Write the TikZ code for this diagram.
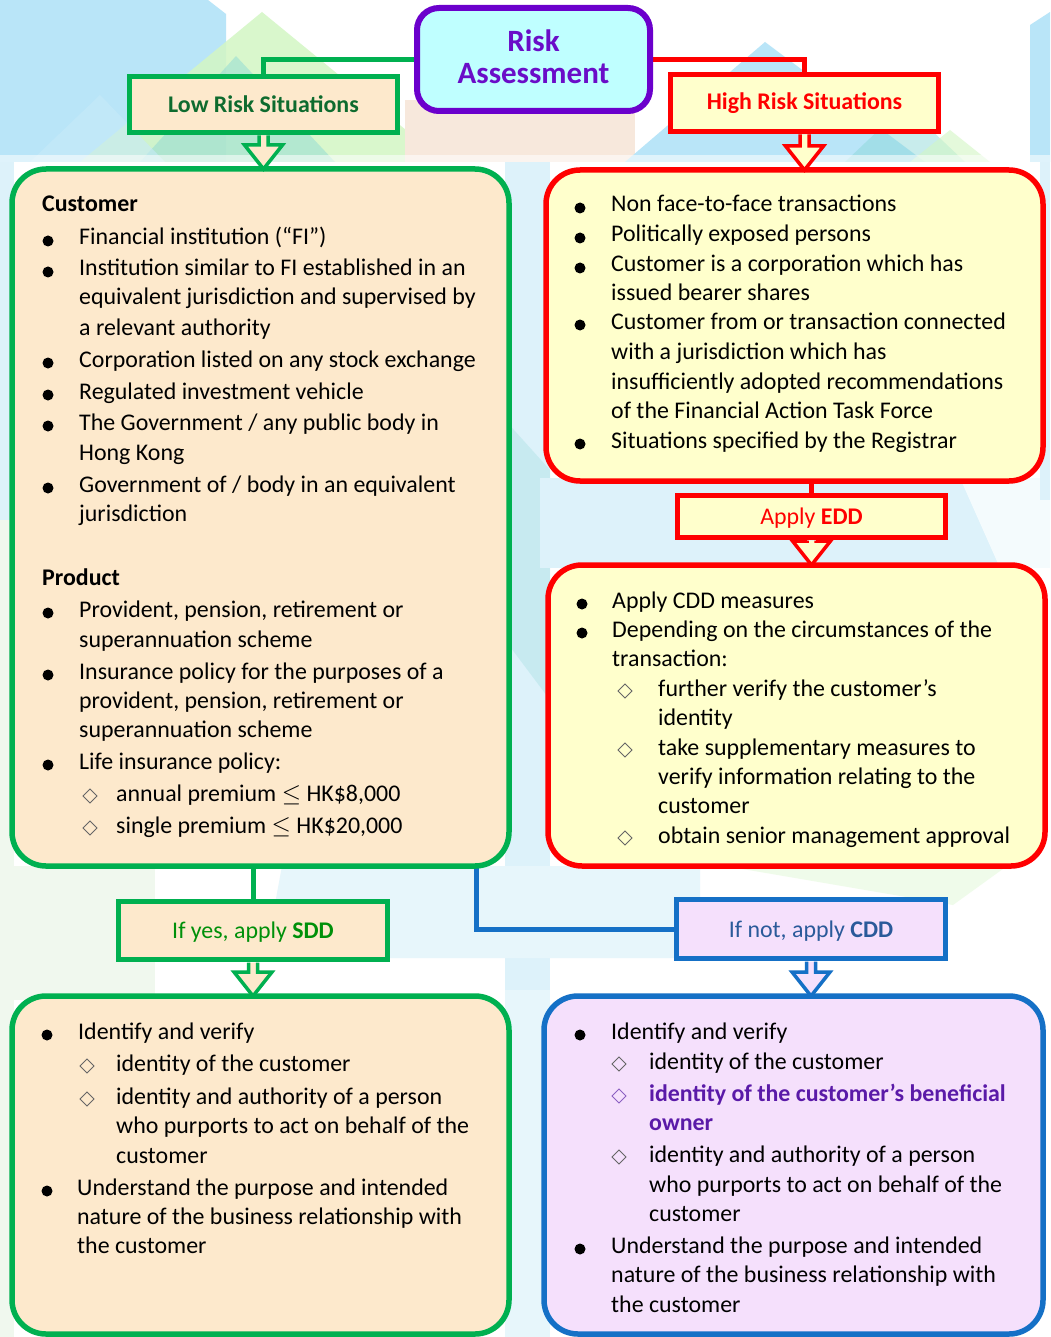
\documentclass[tikz,border=0pt]{standalone}
\usepackage{fontspec}
\setmainfont{Carlito}
\usetikzlibrary{calc}
\pgfdeclarelayer{bg}\pgfdeclarelayer{conn}\pgfsetlayers{bg,conn,main}
\definecolor{gr}{HTML}{00B050}
\definecolor{peach}{HTML}{FDE9CC}
\definecolor{rd}{HTML}{FF0000}
\definecolor{ylw}{HTML}{FFFFCC}
\definecolor{pur}{HTML}{6B00CC}
\definecolor{ratext}{HTML}{6A0DC8}
\definecolor{cyanfill}{HTML}{BFFFFF}
\definecolor{dkgr}{HTML}{0E6B2E}
\definecolor{sddgr}{HTML}{00900A}
\definecolor{bl}{HTML}{1570C6}
\definecolor{lav}{HTML}{F5E0FC}
\definecolor{cddtxt}{HTML}{2A5A9A}
\definecolor{bpur}{HTML}{5A1AA8}
\definecolor{bgblue}{HTML}{B9E5F8}
\definecolor{bggreen}{HTML}{D3F6C4}
\definecolor{bgteal}{HTML}{86D6D6}
\definecolor{bgpeach}{HTML}{F7E8DC}
\definecolor{bglight}{HTML}{DDF2FA}
\definecolor{bgpale}{HTML}{F0F8EE}
\tikzset{
 txt/.style={inner sep=0pt, font=\fontsize{23.9}{28}\selectfont, anchor=base west},
 bigbox/.style={rectangle, rounded corners=34pt, line width=5.5pt, outer sep=0pt, inner sep=0pt, anchor=north west},
 lbl/.style={rectangle, line width=5pt, outer sep=0pt, inner sep=0pt, font=\fontsize{23.9}{28}\selectfont},
 conn/.style={line width=5pt},
 harr/.style={line width=3.5pt, line join=miter},
 dia/.style={draw=black!60, line width=0.8pt},
}
\newcounter{lnc}
\newcommand\Tx[3]{\stepcounter{lnc}\node[txt] (ln\arabic{lnc}) at (#1,#2) {#3};}
\newcommand\Bu[4]{\fill (#1,#2-4) circle[radius=5.5pt]; \Tx{#3}{#2}{#4}}
\newcommand\Di[5][black!60]{\draw[dia,draw=#1] (#2-7,#3-5) -- (#2,#3-12) -- (#2+7,#3-5) -- (#2,#3+2) -- cycle; \Tx{#4}{#3}{#5}}
\newcommand\HArr[4]{\filldraw[harr,draw=#3,fill=#4] let \p1=(#1), \p2=(#2) in
 (\x1-4.5pt,\y1-3pt) -- (\x1-4.5pt,\y2+24pt) -- (\x1-19pt,\y2+24pt) -- (\x1,\y2) -- (\x1+19pt,\y2+24pt) -- (\x1+4.5pt,\y2+24pt) -- (\x1+4.5pt,\y1-3pt);}
\begin{document}
\begin{tikzpicture}[x=1pt,y=-1pt]
\useasboundingbox (0,0) rectangle (1050,1337);
\begin{pgfonlayer}{bg}
\fill[white] (0,0) rectangle (1050,1337);
% top decoration
\fill[bgblue] (0,0) -- (208,0) -- (226,14) -- (226,162) -- (0,162) -- cycle;
\fill[bggreen,opacity=.85] (262,12) -- (445,162) -- (80,162) -- cycle;
\fill[bgteal,opacity=.45] (236,56) -- (335,162) -- (140,162) -- cycle;
\fill[bgblue!80,opacity=.6] (100,95) -- (165,162) -- (30,162) -- cycle;
\fill[bgpeach] (405,100) -- (635,100) -- (635,162) -- (405,162) -- cycle;
\fill[bgblue] (765,42) -- (925,162) -- (625,162) -- cycle;
\fill[bgteal,opacity=.45] (905,105) -- (965,162) -- (845,162) -- cycle;
\fill[bggreen,opacity=.6] (950,130) -- (990,162) -- (910,162) -- cycle;
\fill[bgblue] (1030,25) -- (1050,12) -- (1050,162) -- (1030,162) -- cycle;
\fill[white,opacity=.55] (0,155) rectangle (1050,170);
% side columns
\fill[bglight] (0,162) rectangle (14,520);
\fill[bgpale] (0,520) rectangle (14,1337);
\fill[bglight] (505,162) rectangle (550,1000);
\fill[bgteal,opacity=.25] (505,420) -- (550,470) -- (550,700) -- (505,640) -- cycle;
\fill[bglight] (540,478) rectangle (1050,568);
\fill[white,opacity=.7] (960,478) -- (1050,478) -- (1050,568) -- (1000,568) -- cycle;
\fill[bglight] (1040,162) rectangle (1050,500);
% lower decoration
\fill[bgpale] (0,866) rectangle (155,1000);
\fill[bglight!70] (282,866) -- (700,866) -- (700,958) -- (265,958) -- cycle;
\fill[bggreen,opacity=.35] (725,866) -- (1007,866) -- (953,905) -- cycle;
\fill[bglight!70] (505,990) rectangle (550,1337);
\end{pgfonlayer}

% main boxes
\node[bigbox,draw=gr,fill=peach,minimum width=497pt,minimum height=697pt] (lowbox) at (12,169) {};
\node[bigbox,draw=rd,fill=ylw,minimum width=497pt,minimum height=311pt] (red1) at (546,170) {};
\node[bigbox,draw=rd,fill=ylw,minimum width=497pt,minimum height=301pt] (red2) at (548,565) {};
\node[bigbox,draw=gr,fill=peach,minimum width=497pt,minimum height=338pt] (sddbox) at (12,996) {};
\node[bigbox,draw=bl,fill=lav,minimum width=499pt,minimum height=338pt] (cddbox) at (544,996) {};

% labels
\node[rectangle,rounded corners=22pt,line width=6pt,draw=pur,fill=cyanfill,minimum width=233pt,minimum height=103pt,inner sep=0pt] (ra) at (533.5,59.5) {};
\node[font=\fontsize{31}{32}\selectfont\bfseries,text=ratext,align=center,inner sep=0pt] (ratxt) at (533.5,56.5) {Risk\\Assessment};
\node[lbl,draw=gr,fill=peach,minimum width=268pt,minimum height=56pt,text=dkgr,font=\fontsize{23.9}{28}\selectfont\bfseries] (low) at (263.5,104.5) {Low Risk Situations};
\node[lbl,draw=rd,fill=ylw,minimum width=268pt,minimum height=57pt,text=rd,font=\fontsize{23.9}{28}\selectfont\bfseries] (high) at (804.5,103) {High Risk Situations};
\node[lbl,draw=rd,fill=ylw,minimum width=268pt,minimum height=42pt,text=rd,text depth=0pt] (edd) at (811.5,516.5) {Apply \textbf{EDD}};
\node[lbl,draw=gr,fill=peach,minimum width=269pt,minimum height=58pt,text=sddgr,text depth=0pt] (sdd) at (253,930.5) {If yes, apply \textbf{SDD}};
\node[lbl,draw=bl,fill=lav,minimum width=269pt,minimum height=59pt,text=cddtxt,text depth=0pt] (cdd) at (811,929) {If not, apply \textbf{CDD}};

% connectors
\begin{pgfonlayer}{conn}
\draw[conn,gr] (ra.west) -| (low.north);
\draw[conn,rd] (ra.east) -| (high.north);
\draw[conn,rd] (edd.north) -- (edd.north |- red1.south);
\draw[conn,gr] (sdd.north) -- (sdd.north |- lowbox.south);
\draw[conn,bl] ($(lowbox.south east)+(-33pt,0)$) |- (cdd.west);
\end{pgfonlayer}

% hollow arrows
\HArr{low.south}{low.south |- lowbox.north}{gr}{peach}
\HArr{high.south}{high.south |- red1.north}{rd}{ylw}
\HArr{edd.south}{edd.south |- red2.north}{rd}{ylw}
\HArr{sdd.south}{sdd.south |- sddbox.north}{gr}{peach}
\HArr{cdd.south}{cdd.south |- cddbox.north}{bl}{lav}

% left box text
\Tx{42}{212}{\bfseries Customer}
\Bu{48}{245}{79}{Financial institution (“FI”)}
\Bu{48}{276}{79}{Institution similar to FI established in an}
\Tx{79}{305}{equivalent jurisdiction and supervised by}
\Tx{79}{335}{a relevant authority}
\Bu{48}{367}{79}{Corporation listed on any stock exchange}
\Bu{48}{399}{79}{Regulated investment vehicle}
\Bu{48}{430}{79}{The Government / any public body in}
\Tx{79}{460}{Hong Kong}
\Bu{48}{492}{79}{Government of / body in an equivalent}
\Tx{79}{521}{jurisdiction}
\Tx{42}{585}{\bfseries Product}
\Bu{48}{617}{79}{Provident, pension, retirement or}
\Tx{79}{647}{superannuation scheme}
\Bu{48}{679}{79}{Insurance policy for the purposes of a}
\Tx{79}{708}{provident, pension, retirement or}
\Tx{79}{737}{superannuation scheme}
\Bu{48}{769}{79}{Life insurance policy:}
\Di{90}{801}{116}{annual premium $\le$ HK\$8,000}
\Di{90}{833}{116}{single premium $\le$ HK\$20,000}

% right box 1
\Bu{580}{212}{611}{Non face-to-face transactions}
\Bu{580}{242}{611}{Politically exposed persons}
\Bu{580}{272}{611}{Customer is a corporation which has}
\Tx{611}{301}{issued bearer shares}
\Bu{580}{329}{611}{Customer from or transaction connected}
\Tx{611}{359}{with a jurisdiction which has}
\Tx{611}{389}{insufficiently adopted recommendations}
\Tx{611}{418}{of the Financial Action Task Force}
\Bu{580}{448}{611}{Situations specified by the Registrar}

% right box 2
\Bu{582}{608}{612}{Apply CDD measures}
\Bu{582}{637}{612}{Depending on the circumstances of the}
\Tx{612}{666}{transaction:}
\Di{625}{696}{658}{further verify the customer’s}
\Tx{658}{725}{identity}
\Di{625}{755}{658}{take supplementary measures to}
\Tx{658}{784}{verify information relating to the}
\Tx{658}{813}{customer}
\Di{625}{843}{658}{obtain senior management approval}

% bottom left
\Bu{47}{1039}{78}{Identify and verify}
\Di{87}{1071}{116}{identity of the customer}
\Di{87}{1104}{116}{identity and authority of a person}
\Tx{116}{1133}{who purports to act on behalf of the}
\Tx{116}{1163}{customer}
\Bu{47}{1195}{77}{Understand the purpose and intended}
\Tx{77}{1224}{nature of the business relationship with}
\Tx{77}{1253}{the customer}

% bottom right
\Bu{580}{1039}{611}{Identify and verify}
\Di{619}{1069}{649}{identity of the customer}
\Di[bpur!70]{619}{1101}{649}{\color{bpur}\bfseries identity of the customer’s beneficial}
\Tx{649}{1130}{\color{bpur}\bfseries owner}
\Di{619}{1162}{649}{identity and authority of a person}
\Tx{649}{1192}{who purports to act on behalf of the}
\Tx{649}{1221}{customer}
\Bu{580}{1253}{611}{Understand the purpose and intended}
\Tx{611}{1282}{nature of the business relationship with}
\Tx{611}{1312}{the customer}
\end{tikzpicture}
\end{document}
